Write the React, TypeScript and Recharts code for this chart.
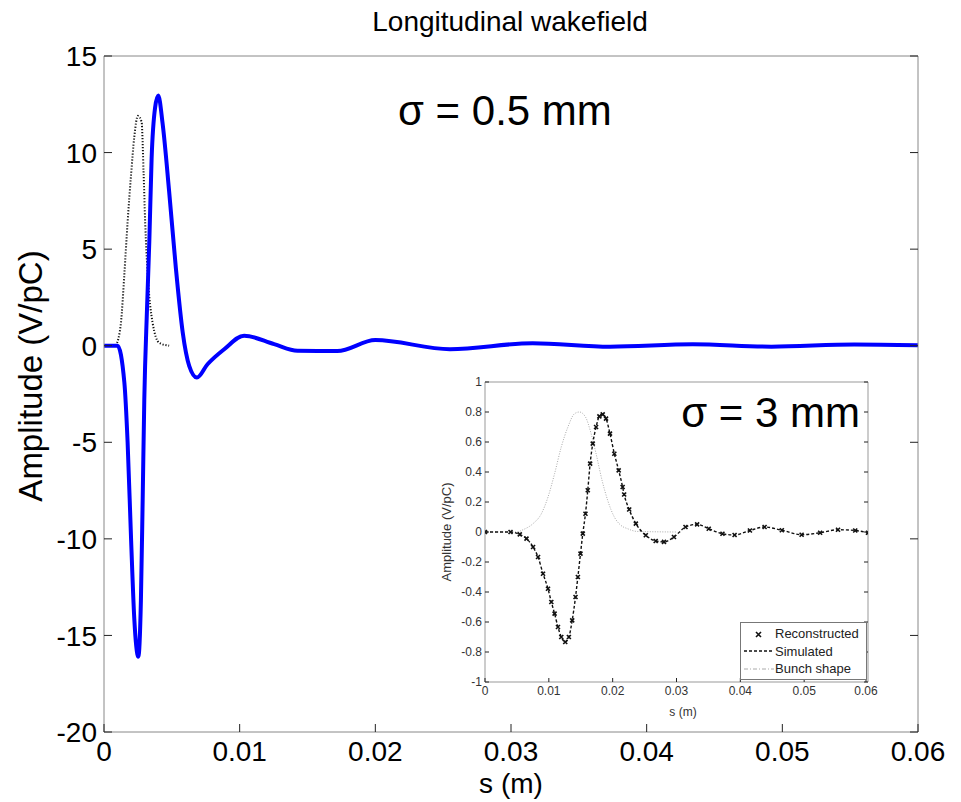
import { LineChart, Line, XAxis, YAxis, Legend } from "recharts";

// main plot, sigma = 0.5 mm : wakefield (blue) and bunch shape (dotted)
const wakeS = [
  0, 0.001, 0.0015, 0.00174, 0.002, 0.00223, 0.00253, 0.00272, 0.00285, 0.00297,
  0.00317, 0.00334, 0.00351, 0.00376, 0.004, 0.00432, 0.0048, 0.0053, 0.0058,
  0.00628, 0.00685, 0.00763, 0.00886, 0.01033, 0.01254, 0.01426, 0.0172, 0.02,
  0.0255, 0.0316, 0.0373, 0.0434, 0.0492, 0.0553, 0.06,
];
const wakeV = [
  0, 0, -1.9, -5.0, -10.1, -14.1, -16.1, -13.2, -8.0, -2.8,
  1.9, 5.4, 9.7, 12.3, 12.95, 11.5, 8.0, 4.0, 0.7,
  -1.04, -1.65, -0.96, -0.18, 0.52, 0.08, -0.26, -0.28, 0.29,
  -0.18, 0.13, -0.05, 0.07, -0.05, 0.06, 0.02,
];
const bunchS = [
  0.00088, 0.00125, 0.0015, 0.00174, 0.002, 0.00223, 0.0025, 0.00277, 0.00292,
  0.00304, 0.00322, 0.00358, 0.00407, 0.0048,
];
const bunchV = [0, 1.2, 3.7, 6.4, 8.9, 10.8, 11.9, 11.6, 8.9, 6.3, 3.7, 1.2, 0.15, 0];

// inset, sigma = 3 mm
const simS = [
  0, 0.004, 0.00545, 0.0065, 0.00753, 0.00831, 0.00909, 0.00987, 0.01039, 0.0109,
  0.01143, 0.01195, 0.01257, 0.01314, 0.01366, 0.01418, 0.01455, 0.01496, 0.01532,
  0.01574, 0.0161, 0.01647, 0.01688, 0.0174, 0.01792, 0.01844, 0.01896, 0.01958,
  0.02026, 0.02094, 0.02156, 0.0218, 0.02259, 0.02363, 0.02519, 0.02674, 0.02804,
  0.0296, 0.03141, 0.03323, 0.03505, 0.0372, 0.0391, 0.0415, 0.0438, 0.0465,
  0.0496, 0.0525, 0.0553, 0.058, 0.06,
];
const simV = [
  0, 0, -0.016, -0.044, -0.1, -0.167, -0.278, -0.378, -0.467, -0.544,
  -0.633, -0.7, -0.733, -0.7, -0.589, -0.433, -0.3, -0.144, -0.011,
  0.122, 0.278, 0.456, 0.589, 0.7, 0.771, 0.784, 0.756, 0.656,
  0.522, 0.411, 0.3, 0.25, 0.15, 0.056, -0.022, -0.06, -0.066,
  -0.033, 0.033, 0.051, 0.022, -0.012, -0.02, 0.01, 0.033, 0.012,
  -0.018, -0.005, 0.015, 0.01, -0.005,
];
const shapeS = [
  0, 0.0049, 0.006, 0.00753, 0.00883, 0.00987, 0.0109, 0.01195, 0.01299, 0.01403,
  0.0148, 0.01574, 0.01662, 0.0174, 0.01834, 0.01922, 0.02026, 0.0213, 0.02234,
  0.0238, 0.0299,
];
const shapeV = [
  0, 0, 0.016, 0.056, 0.122, 0.233, 0.389, 0.567, 0.7, 0.789,
  0.8, 0.767, 0.656, 0.522, 0.344, 0.211, 0.1, 0.044, 0.022,
  0.004, 0,
];

const mainXTicks = [0, 0.01, 0.02, 0.03, 0.04, 0.05, 0.06];
const mainYTicks = [-20, -15, -10, -5, 0, 5, 10, 15];
const insetXTicks = [0, 0.01, 0.02, 0.03, 0.04, 0.05, 0.06];
const insetYTicks = [-1, -0.8, -0.6, -0.4, -0.2, 0, 0.2, 0.4, 0.6, 0.8, 1];
const legendNames = ["Reconstructed", "Simulated", "Bunch shape"];

const wakeData = wakeS.map((s, i) => ({ s, v: wakeV[i] }));
const bunchData = bunchS.map((s, i) => ({ s, v: bunchV[i] }));
const simData = simS.map((s, i) => ({ s, v: simV[i] }));
const shapeData = shapeS.map((s, i) => ({ s, v: shapeV[i] }));

const FONT = "'Liberation Sans', Arial, sans-serif";

// ticks drawn inward, labels outside (matlab look)
const makeTick =
  (side: "bottom" | "left" | "top" | "right", len: number, fontSize: number, color: string, showLabel: boolean) =>
  (props: any) => {
    const { x, y, payload } = props;
    const v = payload.value;
    if (side === "bottom")
      return (
        <g>
          <line x1={x} x2={x} y1={y} y2={y - len} stroke="#222" />
          {showLabel && (
            <text x={x} y={y + fontSize * 1.05} textAnchor="middle" fontSize={fontSize} fill={color}>
              {String(v)}
            </text>
          )}
        </g>
      );
    if (side === "left")
      return (
        <g>
          <line x1={x} x2={x + len} y1={y} y2={y} stroke="#222" />
          {showLabel && (
            <text x={x - fontSize * 0.25} y={y + fontSize * 0.36} textAnchor="end" fontSize={fontSize} fill={color}>
              {String(v)}
            </text>
          )}
        </g>
      );
    if (side === "top") return <line x1={x} x2={x} y1={y} y2={y + len} stroke="#222" />;
    return <line x1={x} x2={x - len} y1={y} y2={y} stroke="#222" />;
  };

const XMark = (props: any) => {
  const { cx, cy, index } = props;
  const d = 2;
  return (
    <path
      key={index}
      d={`M${cx - d},${cy - d}L${cx + d},${cy + d}M${cx - d},${cy + d}L${cx + d},${cy - d}`}
      stroke="#111"
      strokeWidth={1.6}
    />
  );
};

const InsetLegend = () => (
  <div
    style={{
      border: "1px solid #777",
      background: "#fff",
      width: 127,
      height: 58,
      boxSizing: "border-box",
      fontSize: 13,
      color: "#222",
      fontFamily: FONT,
      paddingTop: 2,
    }}
  >
    {legendNames.map((name, i) => (
      <div key={name} style={{ display: "flex", alignItems: "center", height: 17.5 }}>
        <svg width={30} height={10} style={{ marginLeft: 3 }}>
          {i === 0 && <path d="M12,3L17,8M12,8L17,3" stroke="#111" strokeWidth={1.6} />}
          {i === 1 && <line x1={0} x2={30} y1={5} y2={5} stroke="#111" strokeWidth={1.3} strokeDasharray="3 2" />}
          {i === 2 && <line x1={0} x2={30} y1={5} y2={5} stroke="#aaa" strokeWidth={1} strokeDasharray="4 2 1 2" />}
        </svg>
        <span style={{ marginLeft: 1 }}>{name}</span>
      </div>
    ))}
  </div>
);

const axisCommon = {
  type: "number" as const,
  tickSize: 0,
  tickMargin: 0,
  tickLine: false,
  allowDataOverflow: true,
};

export default function App() {
  return (
    <div style={{ position: "absolute", left: 0, top: 0, width: 961, height: 802, background: "#fff", fontFamily: FONT }}>
      <LineChart width={961} height={802} margin={{ top: 46, right: 33, bottom: 30, left: 44 }}>
        <XAxis
          {...axisCommon}
          dataKey="s"
          domain={[0, 0.06]}
          ticks={mainXTicks}
          height={40}
          stroke="#888"
          tick={makeTick("bottom", 8, 28, "#000", true)}
        />
        <XAxis
          {...axisCommon}
          xAxisId="top"
          orientation="top"
          domain={[0, 0.06]}
          ticks={mainXTicks}
          height={10}
          stroke="#888"
          tick={makeTick("top", 8, 28, "#000", false)}
        />
        <YAxis
          {...axisCommon}
          domain={[-20, 15]}
          ticks={mainYTicks}
          width={60}
          stroke="#888"
          tick={makeTick("left", 8, 28, "#000", true)}
        />
        <YAxis
          {...axisCommon}
          yAxisId="right"
          orientation="right"
          domain={[-20, 15]}
          ticks={mainYTicks}
          width={10}
          stroke="#888"
          tick={makeTick("right", 8, 28, "#000", false)}
        />
        <Line
          data={bunchData}
          dataKey="v"
          type="monotone"
          stroke="#111"
          strokeWidth={2}
          strokeDasharray="1.2 1.8"
          dot={false}
          isAnimationActive={false}
        />
        <Line
          data={wakeData}
          dataKey="v"
          type="monotone"
          stroke="#0000ff"
          strokeWidth={4}
          dot={false}
          isAnimationActive={false}
        />
        <text x={510} y={31} textAnchor="middle" fontSize={28} fill="#000">
          Longitudinal wakefield
        </text>
        <text x={511} y={793} textAnchor="middle" fontSize={28} fill="#000">
          s (m)
        </text>
        <text x={42} y={376} textAnchor="middle" fontSize={33} fill="#000" transform="rotate(-90 42 376)">
          Amplitude (V/pC)
        </text>
        <text x={398} y={125} fontSize={42} fill="#000">
          σ = 0.5 mm
        </text>
      </LineChart>

      <div style={{ position: "absolute", left: 420, top: 370 }}>
        <LineChart width={460} height={360} margin={{ top: 2, right: 2, bottom: 18, left: 25 }}>
          <XAxis
            {...axisCommon}
            dataKey="s"
            domain={[0, 0.06]}
            ticks={insetXTicks}
            height={30}
            stroke="#999"
            tick={makeTick("bottom", 4, 12, "#333", true)}
          />
          <XAxis
            {...axisCommon}
            xAxisId="top"
            orientation="top"
            domain={[0, 0.06]}
            ticks={insetXTicks}
            height={10}
            stroke="#999"
            tick={makeTick("top", 4, 12, "#333", false)}
          />
          <YAxis
            {...axisCommon}
            domain={[-1, 1]}
            ticks={insetYTicks}
            width={40}
            stroke="#999"
            tick={makeTick("left", 4, 12, "#333", true)}
          />
          <YAxis
            {...axisCommon}
            yAxisId="right"
            orientation="right"
            domain={[-1, 1]}
            ticks={insetYTicks}
            width={10}
            stroke="#999"
            tick={makeTick("right", 4, 12, "#333", false)}
          />
          <Line
            data={shapeData}
            dataKey="v"
            name="Bunch shape"
            type="monotone"
            stroke="#aaa"
            strokeWidth={1}
            strokeDasharray="1 1.5"
            dot={false}
            isAnimationActive={false}
          />
          <Line
            data={simData}
            dataKey="v"
            name="Simulated"
            type="monotone"
            stroke="#111"
            strokeWidth={1.4}
            strokeDasharray="3 2"
            dot={false}
            isAnimationActive={false}
          />
          <Line
            data={simData}
            dataKey="v"
            name="Reconstructed"
            type="monotone"
            stroke="none"
            dot={XMark}
            isAnimationActive={false}
          />
          <Legend
            layout="vertical"
            align="center"
            verticalAlign="middle"
            content={<InsetLegend />}
            wrapperStyle={{ position: "absolute", left: 320, top: 252, width: 127, height: 58 }}
          />
          <text x={263} y={346} textAnchor="middle" fontSize={12} fill="#333">
            s (m)
          </text>
          <text x={31} y={162} textAnchor="middle" fontSize={13} fill="#333" transform="rotate(-90 31 162)">
            Amplitude (V/pC)
          </text>
          <text x={440} y={57} textAnchor="end" fontSize={42} fill="#000">
            σ = 3 mm
          </text>
        </LineChart>
      </div>
    </div>
  );
}
